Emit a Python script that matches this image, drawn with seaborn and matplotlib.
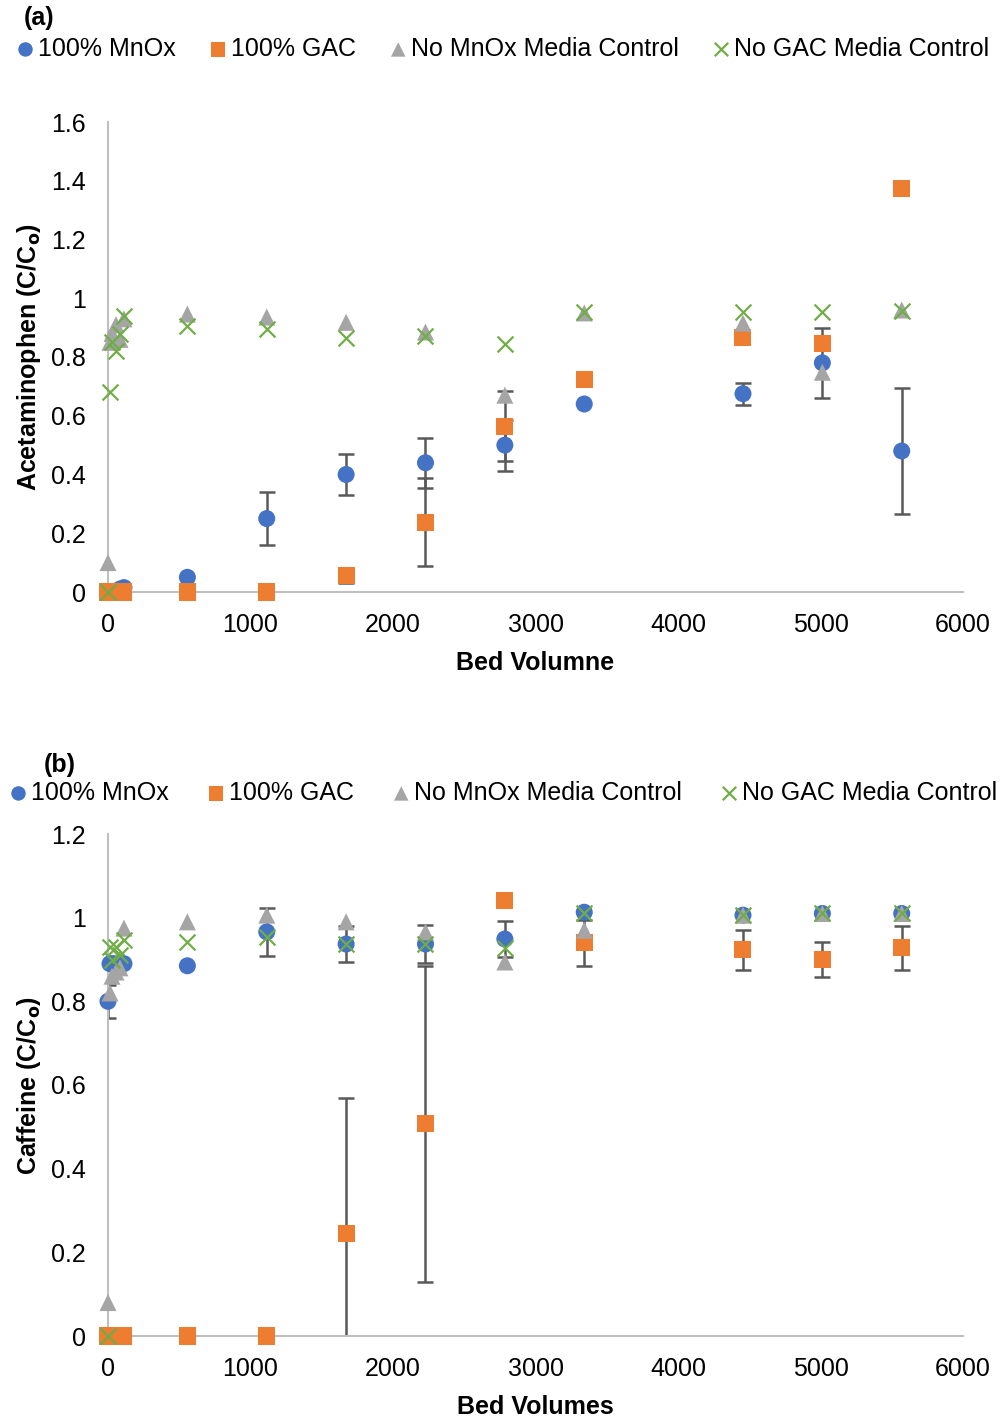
import numpy as np
import pandas as pd
import seaborn as sns
import matplotlib.pyplot as plt

# bed volumes (shared by both panels)
bed_volumes = [0, 14, 28, 56, 84, 112, 557, 1114, 1671, 2228, 2785, 3342, 4456, 5013, 5570]

series_names = ['100% MnOx', '100% GAC', 'No MnOx Media Control', 'No GAC Media Control']

# (a) Acetaminophen C/Co
acet_mnox = [0.0, 0.0, 0.0, 0.0, 0.01, 0.015, 0.05, 0.25, 0.40, 0.44, 0.50, 0.64, 0.675, 0.78, 0.48]
acet_mnox_err = [np.nan] * 7 + [0.09, 0.07, 0.085, 0.087, np.nan, 0.038, 0.12, 0.215]
acet_gac = [0.0, 0.0, 0.0, 0.0, 0.0, 0.0, 0.0, 0.0, 0.055, 0.238, 0.565, 0.725, 0.868, 0.845, 1.375]
acet_gac_err = [np.nan] * 8 + [0.025, 0.15, 0.12, np.nan, np.nan, np.nan, np.nan]
acet_no_mnox = [0.10, 0.85, 0.88, 0.91, 0.86, 0.93, 0.946, 0.936, 0.918, 0.885, 0.67, 0.95, 0.915, 0.748, 0.96]
acet_no_gac = [0.0, 0.68, 0.85, 0.82, 0.88, 0.94, 0.905, 0.895, 0.865, 0.87, 0.845, 0.953, 0.953, 0.953, 0.957]

# (b) Caffeine C/Co
caff_mnox = [0.80, 0.89, 0.89, 0.89, 0.89, 0.89, 0.885, 0.966, 0.937, 0.937, 0.949, 1.013, 1.006, 1.01, 1.01]
caff_mnox_err = [0.04] + [np.nan] * 6 + [0.057, 0.043, 0.045, 0.042, np.nan, np.nan, np.nan, np.nan]
caff_gac = [0.0, 0.0, 0.0, 0.0, 0.0, 0.0, 0.0, 0.0, 0.245, 0.507, 1.042, 0.94, 0.923, 0.899, 0.928]
caff_gac_err = [np.nan] * 8 + [0.323, 0.377, np.nan, 0.055, 0.048, 0.042, 0.052]
caff_no_mnox = [0.08, 0.82, 0.86, 0.87, 0.88, 0.975, 0.99, 1.006, 0.99, 0.966, 0.894, 0.97, 1.006, 1.01, 1.01]
caff_no_gac = [0.0, 0.93, 0.90, 0.93, 0.91, 0.947, 0.942, 0.954, 0.937, 0.937, 0.927, 1.01, 1.006, 1.01, 1.01]

colors = ['#4472C4', '#ED7D31', '#A5A5A5', '#70AD47']
markers = ['o', 's', '^', 'x']

sns.set_style('white')
plt.rcParams['font.family'] = ['Liberation Sans', 'DejaVu Sans']
plt.rcParams['text.color'] = 'black'
plt.rcParams['axes.labelcolor'] = 'black'
plt.rcParams['xtick.color'] = 'black'
plt.rcParams['ytick.color'] = 'black'

fig = plt.figure(figsize=(10.05, 14.2), dpi=100)
W, H = 1005, 1420
# axes boxes in pixels: left, top, right, bottom
ax_a = fig.add_axes([108 / W, 1 - 592 / H, (963 - 108) / W, (592 - 122) / H])
ax_b = fig.add_axes([108 / W, 1 - 1336 / H, (963 - 108) / W, (1336 - 834) / H])


def draw_panel(ax, values, errs, ylim, yticks, ylabel, xlabel, tag, legend_xy, tag_xy, colsp):
    df = pd.DataFrame({'bv': bed_volumes * 4,
                       'val': sum(values, []),
                       'series': [n for n in series_names for _ in bed_volumes]})
    # error bars first so they sit behind the markers
    for i, err in enumerate(errs):
        if err is None:
            continue
        e = np.array(err)
        m = ~np.isnan(e)
        ax.errorbar(np.array(bed_volumes)[m], np.array(values[i])[m], yerr=e[m],
                    fmt='none', ecolor='#595959', elinewidth=1.8, capsize=6,
                    capthick=1.8, zorder=2)
    for i, name in enumerate(series_names):
        sub = df[df['series'] == name]
        kw = dict(s=150, color=colors[i], marker=markers[i], label=name,
                  zorder=3 + i, clip_on=False)
        if markers[i] == 'x':
            kw.update(s=130, linewidth=1.6)
        else:
            kw.update(edgecolor='none')
        sns.scatterplot(data=sub, x='bv', y='val', ax=ax, **kw)

    ax.set_xlim(0, 6000)
    ax.set_ylim(*ylim)
    ax.set_xticks(range(0, 6001, 1000))
    ax.set_yticks(yticks)
    ax.set_yticklabels([('%g' % t) for t in yticks])
    ax.tick_params(axis='both', labelsize=18, length=0)
    ax.tick_params(axis='x', pad=15)
    ax.tick_params(axis='y', pad=16)
    for s in ['top', 'right']:
        ax.spines[s].set_visible(False)
    for s in ['left', 'bottom']:
        ax.spines[s].set_color('#BFBFBF')
        ax.spines[s].set_linewidth(1.5)
    ax.set_xlabel(xlabel, fontsize=18, fontweight='bold', labelpad=10)
    ax.set_ylabel(ylabel, fontsize=18, fontweight='bold', labelpad=6)
    ax.legend(ncol=4, loc='center left', bbox_to_anchor=(legend_xy[0] / W, 1 - legend_xy[1] / H),
              bbox_transform=fig.transFigure, frameon=False, fontsize=18,
              handlelength=0.6, handletextpad=0.2, columnspacing=colsp,
              markerscale=0.85, borderaxespad=0, borderpad=0)
    fig.text(tag_xy[0] / W, 1 - tag_xy[1] / H, tag, fontsize=18, fontweight='bold',
             ha='left', va='center')


draw_panel(ax_a, [acet_mnox, acet_gac, acet_no_mnox, acet_no_gac],
           [acet_mnox_err, acet_gac_err, None, None],
           (0, 1.6), [0, 0.2, 0.4, 0.6, 0.8, 1.0, 1.2, 1.4, 1.6],
           'Acetaminophen (C/C$_\\mathbf{o}$)', 'Bed Volumne', '(a)', (18, 49), (24, 18), 1.4)

draw_panel(ax_b, [caff_mnox, caff_gac, caff_no_mnox, caff_no_gac],
           [caff_mnox_err, caff_gac_err, None, None],
           (0, 1.2), [0, 0.2, 0.4, 0.6, 0.8, 1.0, 1.2],
           'Caffeine (C/C$_\\mathbf{o}$)', 'Bed Volumes', '(b)', (11, 793), (44, 765), 1.6)

fig.savefig('out.png', dpi=100)
